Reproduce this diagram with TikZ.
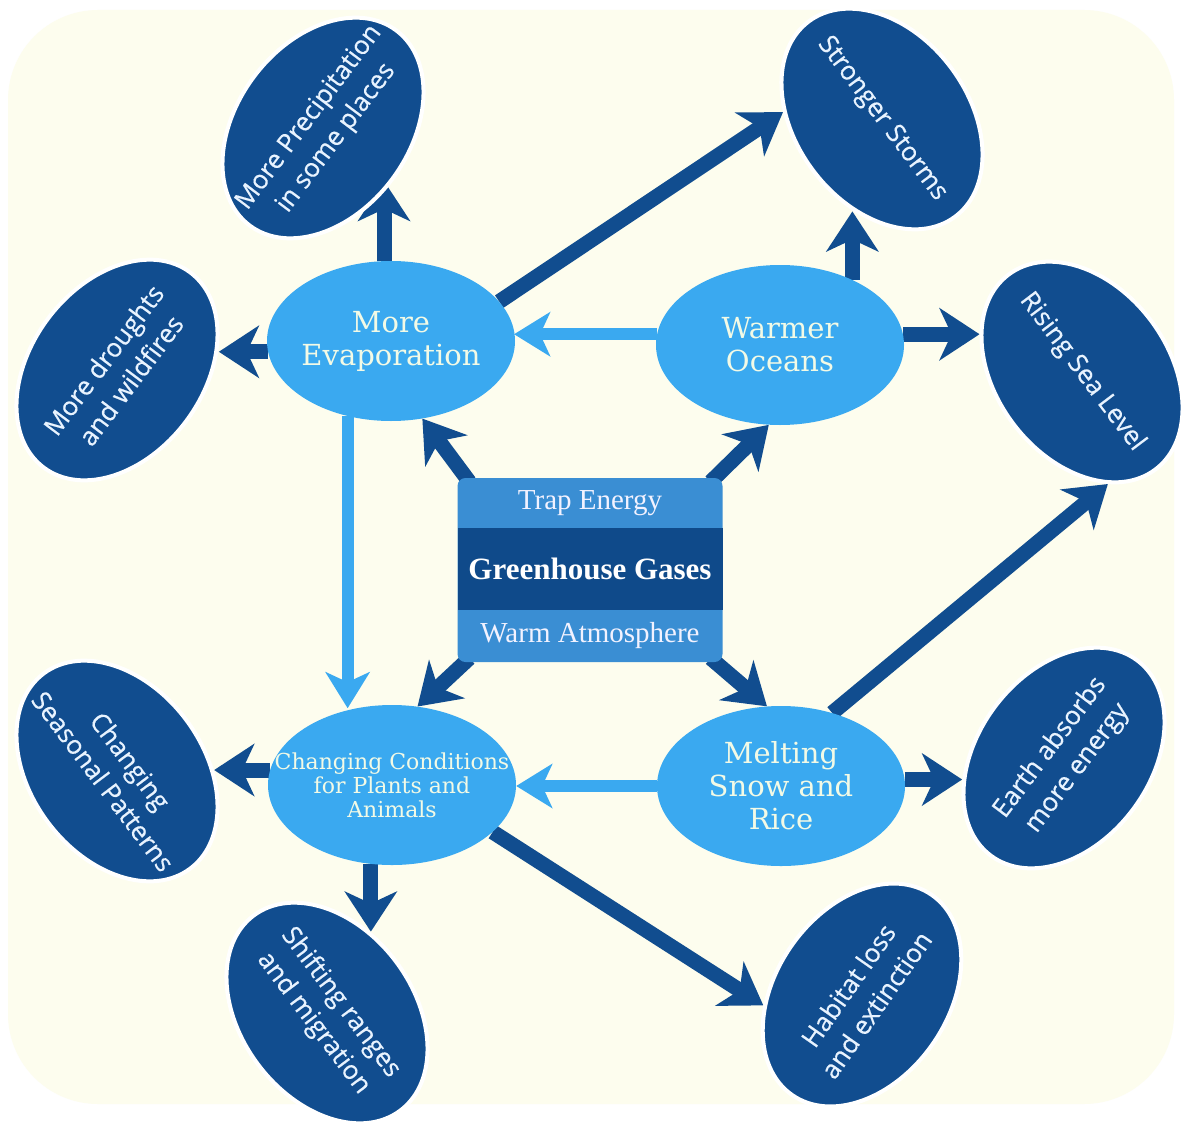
\documentclass[tikz,border=0pt]{standalone}
\usepackage{fontspec}
\usetikzlibrary{arrows.meta,calc,shapes.geometric}
\setmainfont{Liberation Serif}
\newfontfamily\slabfont{DejaVu Serif}
\newfontfamily\bubblefont{Open Sans}[FakeBold=0.4]

\definecolor{dblue}{HTML}{114D8F}
\definecolor{lblue}{HTML}{3AA9F0}
\definecolor{mblue}{HTML}{3A8ED3}
\definecolor{bandblue}{HTML}{0F4A8A}
\definecolor{cream}{HTML}{FDFDEE}
\definecolor{paletext}{HTML}{F2FAE6}
\definecolor{darktext}{HTML}{E8F3FF}

\pgfdeclarelayer{bg}
\pgfdeclarelayer{links}
\pgfsetlayers{bg,links,main}

\tikzset{
  light/.style={ellipse, fill=lblue, minimum width=248pt, minimum height=160pt, inner sep=0pt},
  dark/.style={ellipse, fill=dblue, draw=white, line width=4pt, minimum width=244pt, minimum height=172pt, inner sep=0pt},
  ltext/.style={text=paletext, align=center, font=\slabfont\fontsize{29}{33}\selectfont},
  dtext/.style={text=darktext, align=center, font=\bubblefont\fontsize{26}{34}\selectfont},
  gbox/.style={rectangle, rounded corners=8pt, fill=mblue, minimum width=265pt, minimum height=184pt, inner sep=0pt},
  band/.style={rectangle, fill=bandblue, minimum width=265pt, minimum height=82pt, text=white, font=\bfseries\fontsize{31}{34}\selectfont},
  btext/.style={text=white!95!blue, font=\fontsize{29}{32}\selectfont},
  darr/.style={draw=dblue, line width=15pt, -{Stealth[length=40pt, width=52pt, inset=12pt]}},
  larr/.style={draw=lblue, line width=12pt, -{Stealth[length=36pt, width=44pt, inset=10pt]}}
}

\begin{document}
\begin{tikzpicture}[x=1pt, y=-1pt]
		%%%%% START %%%%%
		\useasboundingbox (0,0) rectangle (1182,1126);
		\begin{pgfonlayer}{bg}
		\fill[white] (0,0) rectangle (1182,1126);
		\fill[cream, rounded corners=90pt] (8,10) rectangle (1174,1104);
		\end{pgfonlayer}
		
		% the four effects round the centre
		\node[light] (evap) at (391,341) {};
		\node[ltext] (evap-t) at (evap) {More\\Evaporation};
		\node[light] (ocean) at (780,345) {};
		\node[ltext] (ocean-t) at (ocean) {Warmer\\Oceans};
		\node[light] (cond) at (392,785) {};
		\node[ltext, font=\slabfont\fontsize{22}{24}\selectfont] (cond-t) at (cond) {Changing Conditions\\for Plants and\\Animals};
		\node[light] (melt) at (781,786) {};
		\node[ltext] (melt-t) at (melt) {Melting\\Snow and\\Rice};
		
		% the outer results
		\node[dark, rotate=53] (precip) at (323,128) {};
		\node[dtext, rotate=53] (precip-t) at (precip) {More Precipitation\\in some places};
		\node[dark, rotate=-53] (storms) at (882,119) {};
		\node[dtext, rotate=-53] (storms-t) at (storms) {Stronger Storms};
		\node[dark, rotate=53] (drought) at (117,370) {};
		\node[dtext, rotate=53] (drought-t) at (drought) {More droughts\\and wildfires};
		\node[dark, rotate=-53] (rising) at (1082,372) {};
		\node[dtext, rotate=-53] (rising-t) at (rising) {Rising Sea Level};
		\node[dark, rotate=-53] (seasonal) at (117,771) {};
		\node[dtext, rotate=-53] (seasonal-t) at (seasonal) {Changing\\Seasonal Patterns};
		\node[dark, rotate=53] (earth) at (1064,758) {};
		\node[dtext, rotate=53] (earth-t) at (earth) {Earth absorbs\\more energy};
		\node[dark, rotate=-53] (shifting) at (327,1013) {};
		\node[dtext, rotate=-53] (shifting-t) at (shifting) {Shifting ranges\\and migration};
		\node[dark, rotate=55] (habitat) at (862,995) {};
		\node[dtext, rotate=55] (habitat-t) at (habitat) {Habitat loss\\and extinction};
		
		% centre box
		\node[gbox] (ghg) at (590,570) {};
		\node[band] (gases) at (590,569) {Greenhouse Gases};
		\node[btext] (trap) at (590,503) {Trap Energy};
		\node[btext] (warm) at (590,636) {Warm Atmosphere};
		
		\begin{pgfonlayer}{links}
		\draw[darr] ($(ghg.north west)+(12,4)$) -- (evap.-68);
		\draw[darr] ($(ghg.north east)+(-12,4)$) -- (ocean.-98);
		\draw[darr] ($(ghg.south west)+(12,-4)$) -- (cond.72);
		\draw[darr] ($(ghg.south east)+(-12,-4)$) -- (melt.100);
		
		\draw[darr] (evap.95) -- (evap.95 |- precip.south);
		\draw[darr] (evap.185) -- (evap.185 -| drought.-40);
		\draw[darr] (evap.20) -- (storms.-131);
		\draw[darr] (ocean.42) -- (ocean.42 |- storms.-54);
		\draw[darr] (ocean.5) -- (ocean.5 -| rising.-148);
		\draw[darr] (melt.55) -- (rising.-24);
		\draw[darr] (melt.3) -- (melt.3 -| earth.140);
		\draw[darr] (cond.173) -- (cond.173 -| seasonal.53);
		\draw[darr] (cond.-105) -- (cond.-105 |- shifting.115);
		\draw[darr] (cond.-25) -- (habitat.131);
		
		\draw[larr] (ocean.175) -- (ocean.175 -| evap.5);
		\draw[larr] (evap.-120) -- (evap.-120 |- cond.115);
		\draw[larr] (melt.180) -- (melt.180 -| cond.0);
		\end{pgfonlayer}
		%%%%% END %%%%%
\end{tikzpicture}
\end{document}
